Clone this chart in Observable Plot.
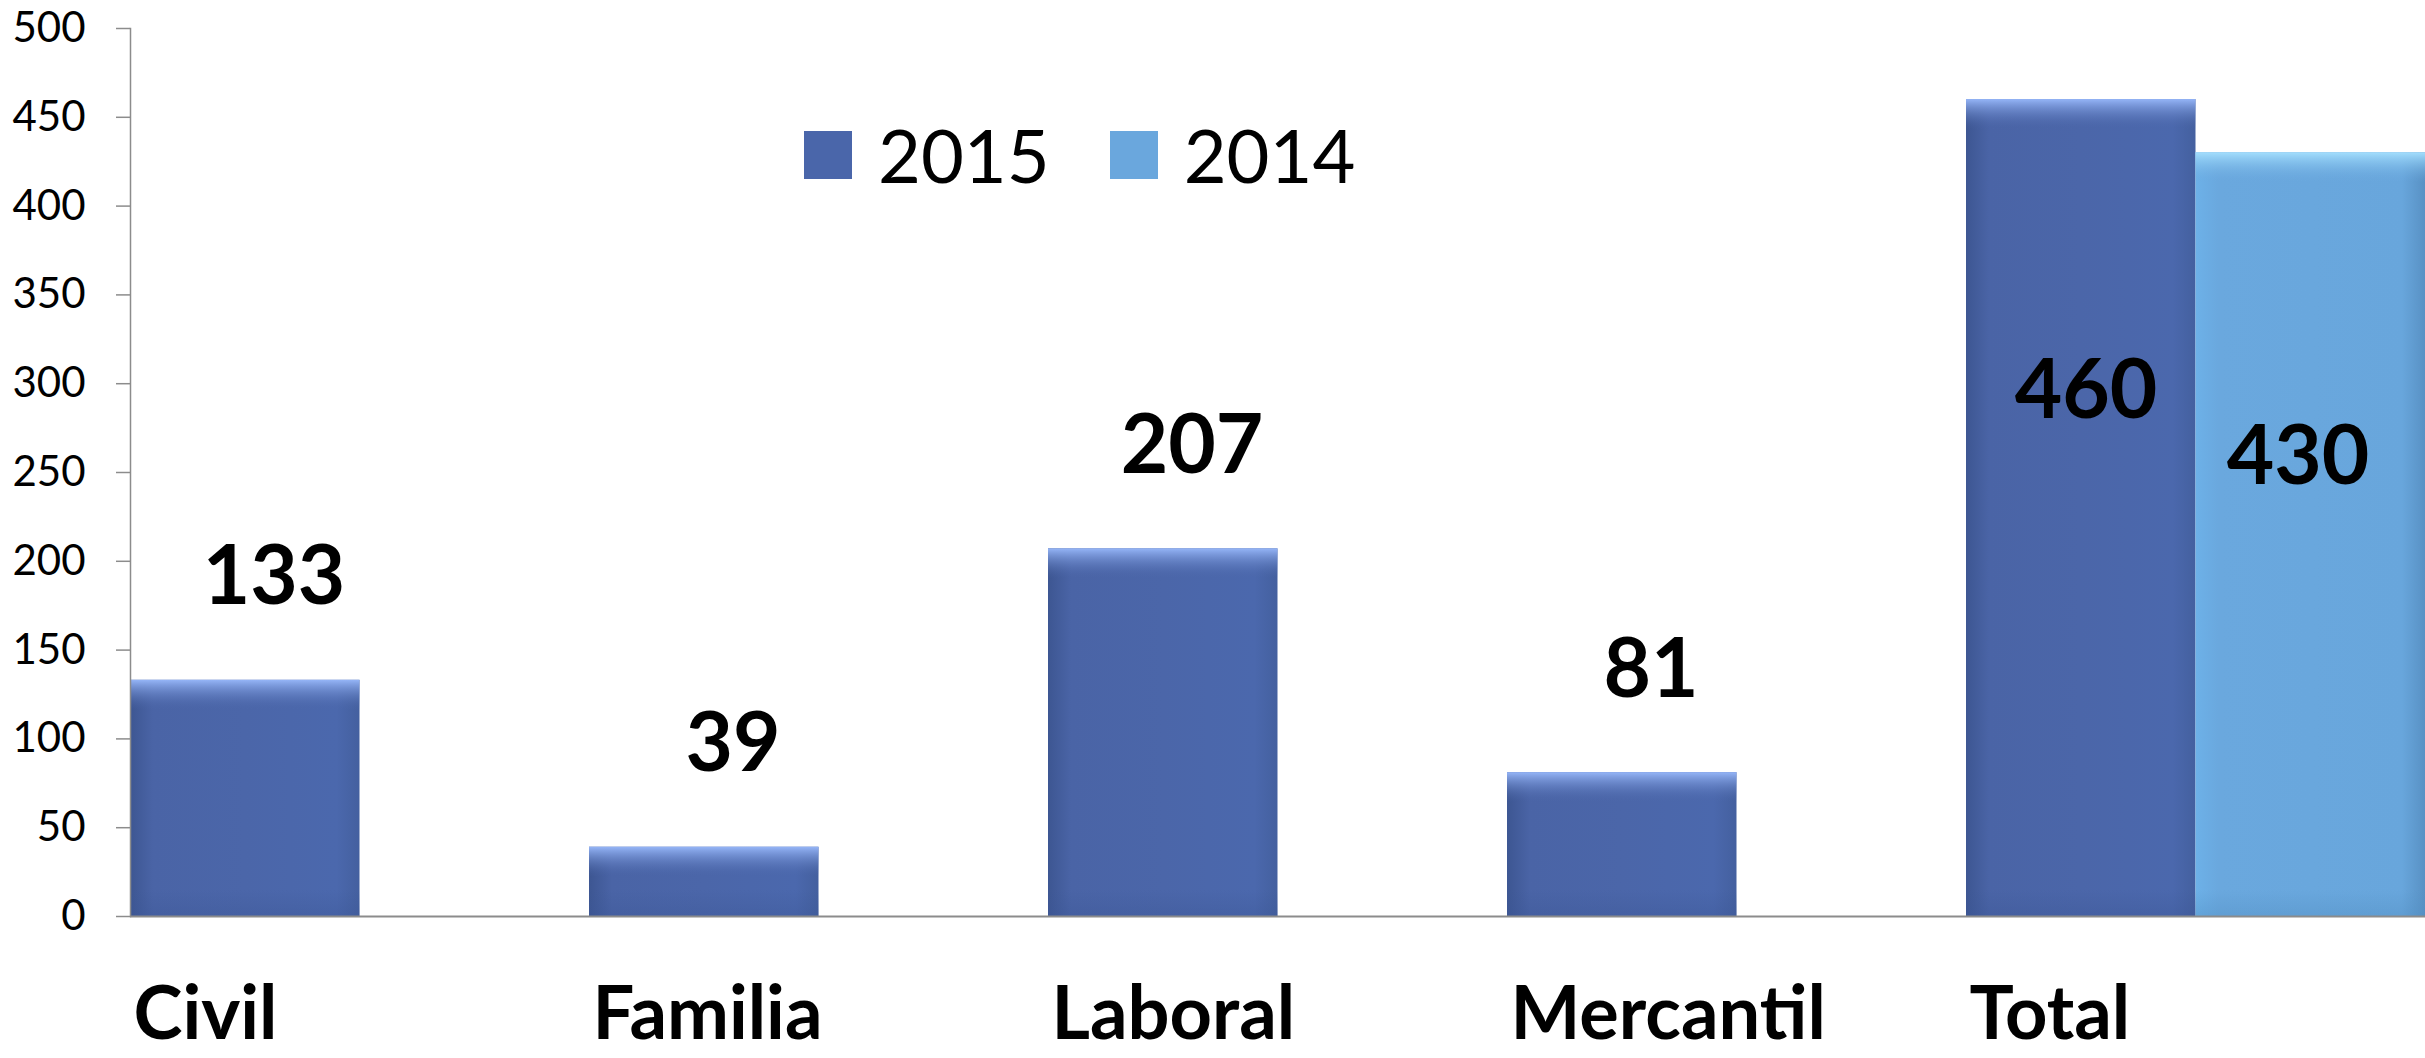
<!DOCTYPE html>
<html>
<head>
<meta charset="utf-8">
<script src="https://cdn.jsdelivr.net/npm/d3@7"></script>
<script src="https://cdn.jsdelivr.net/npm/@observablehq/plot@0.6"></script>
<style>
  html, body { margin: 0; padding: 0; background: #fff; }
  #wrap { position: relative; width: 2425px; height: 1058px; overflow: hidden; }
  #legend { position: absolute; left: 804px; top: 118px; }
  .lg-swatches { font-family: Lato, sans-serif !important; font-size: 74px !important; line-height: 1 !important; margin: 0 !important; min-height: 0 !important; color: #000; }
  .lg-swatch > svg { margin-right: 26px !important; }
  .lg-swatch { margin-right: 60px !important; }
</style>
</head>
<body>
<div id="wrap">
  <div id="chart"></div>
  <div id="legend"></div>
</div>
<script>
// ---- data ----
const categories = ["Civil", "Familia", "Laboral", "Mercantil", "Total"];
const values2015 = [133, 39, 207, 81, 460];
const values2014 = [null, null, null, null, 430];
const seriesNames = ["2015", "2014"];
const seriesColors = ["#4a66aa", "#6aa7dd"];
const yTicks = [0, 50, 100, 150, 200, 250, 300, 350, 400, 450, 500];

const data15 = categories.map((c, i) => ({category: c, series: seriesNames[0], value: values2015[i]}));
const data14 = categories.map((c, i) => ({category: c, series: seriesNames[1], value: values2014[i]})).filter(d => d.value != null);
const totalCat = categories[categories.length - 1];

// ---- layout ----
const W = 2425, H = 1058;
const mL = 130, mR = 0, mT = 28, mB = 142;
const bw = (W - mL - mR) / categories.length;
const half = bw / 2;

const chart = Plot.plot({
  width: W,
  height: H,
  marginLeft: mL,
  marginRight: mR,
  marginTop: mT,
  marginBottom: mB,
  style: {fontFamily: "Lato, sans-serif", background: "#fff", color: "#000"},
  x: {domain: categories, padding: 0, axis: null},
  y: {domain: [0, 500], axis: null},
  marks: [
    Plot.barY(data15, {x: "category", y: "value", fill: "url(#g15)", insetRight: half}),
    Plot.barY(data14, {x: "category", y: "value", fill: "url(#g14)", insetLeft: half}),
    // top bevel highlight
    Plot.barY(data15, {x: "category", y1: "value", y2: "value", insetBottom: -30, insetRight: half, fill: "url(#t15)"}),
    Plot.barY(data14, {x: "category", y1: "value", y2: "value", insetBottom: -30, insetLeft: half, fill: "url(#t14)"}),
    // bottom bevel shade
    Plot.barY(data15, {x: "category", y1: 0, y2: 0, insetTop: -26, insetRight: half, fill: "url(#b15)"}),
    Plot.barY(data14, {x: "category", y1: 0, y2: 0, insetTop: -26, insetLeft: half, fill: "url(#b14)"}),
    Plot.frame({anchor: "left", stroke: "#8c8c8c", strokeWidth: 1.5}),
    Plot.ruleY([0], {stroke: "#8c8c8c", strokeWidth: 2}),
    // value labels
    Plot.text(data15.filter(d => d.category !== totalCat), {
      x: "category", y: "value", text: d => String(d.value),
      dx: -86, dy: -76, lineAnchor: "bottom",
      fontSize: 82, fontWeight: "bold", fill: "#000"
    }),
    Plot.text(data15.filter(d => d.category === totalCat), {
      x: "category", y: "value", text: d => String(d.value),
      dx: -110, dy: 318, lineAnchor: "bottom",
      fontSize: 82, fontWeight: "bold", fill: "#000"
    }),
    Plot.text(data14, {
      x: "category", y: "value", text: d => String(d.value),
      dx: 102, dy: 331, lineAnchor: "bottom",
      fontSize: 82, fontWeight: "bold", fill: "#000"
    }),
    Plot.axisY({
      ticks: yTicks, tickSize: 14, tickPadding: 31, tickFormat: d => String(d),
      fontSize: 42, stroke: "#8c8c8c", strokeWidth: 1.5, fill: "#000", label: null
    }),
    Plot.axisX({
      tickSize: 0, tickPadding: 70, textAnchor: "start", dx: -half + 3,
      fontSize: 74, fontWeight: "bold", fill: "#000", label: null
    })
  ]
});

// gradient definitions for the bevelled bar look
d3.select(chart).insert("defs", ":first-child").html(`
  <linearGradient id="g15" x1="0" x2="1" y1="0" y2="0">
    <stop offset="0" stop-color="#3d5692"/>
    <stop offset="0.1" stop-color="#4a64a6"/>
    <stop offset="0.5" stop-color="#4b66a9"/>
    <stop offset="0.9" stop-color="#4b68ad"/>
    <stop offset="1" stop-color="#44609f"/>
  </linearGradient>
  <linearGradient id="g14" x1="0" x2="1" y1="0" y2="0">
    <stop offset="0" stop-color="#6db1e8"/>
    <stop offset="0.1" stop-color="#6aa8de"/>
    <stop offset="0.9" stop-color="#68a6dc"/>
    <stop offset="1" stop-color="#5891c4"/>
  </linearGradient>
  <linearGradient id="t15" x1="0" x2="0" y1="0" y2="1">
    <stop offset="0" stop-color="#95b5f7" stop-opacity="1"/>
    <stop offset="1" stop-color="#4b66a9" stop-opacity="0"/>
  </linearGradient>
  <linearGradient id="t14" x1="0" x2="0" y1="0" y2="1">
    <stop offset="0" stop-color="#a3defd" stop-opacity="1"/>
    <stop offset="1" stop-color="#6aa8de" stop-opacity="0"/>
  </linearGradient>
  <linearGradient id="b15" x1="0" x2="0" y1="0" y2="1">
    <stop offset="0" stop-color="#3a5595" stop-opacity="0"/>
    <stop offset="1" stop-color="#3a5595" stop-opacity="0.35"/>
  </linearGradient>
  <linearGradient id="b14" x1="0" x2="0" y1="0" y2="1">
    <stop offset="0" stop-color="#4f8cc0" stop-opacity="0"/>
    <stop offset="1" stop-color="#4f8cc0" stop-opacity="0.35"/>
  </linearGradient>
`);

document.getElementById("chart").appendChild(chart);

const legend = Plot.legend({
  color: {type: "ordinal", domain: seriesNames, range: seriesColors},
  legend: "swatches",
  swatchSize: 48,
  className: "lg"
});
document.getElementById("legend").appendChild(legend);
</script>
</body>
</html>
